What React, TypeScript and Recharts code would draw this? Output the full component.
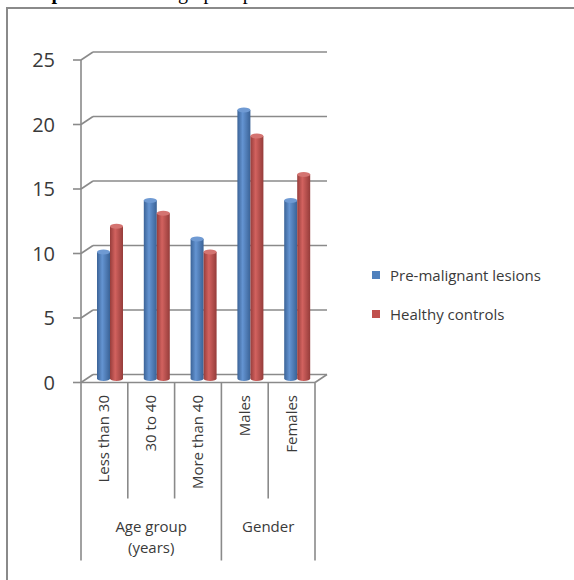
import { Bar, BarChart, CartesianGrid, Legend, XAxis, YAxis } from "recharts";

const categories = ["Less than 30", "30 to 40", "More than 40", "Males", "Females"];
const groupNames = [["Age group", "(years)"], ["Gender"]];
const groupSizes = [3, 2];
const seriesNames = ["Pre-malignant lesions", "Healthy controls"];
const premalignant = [10, 14, 11, 21, 14];
const healthy = [12, 13, 10, 19, 16];
const yTicks = [0, 5, 10, 15, 20, 25];

const data = categories.map((label, i) => ({
  label,
  premalignant: premalignant[i],
  healthy: healthy[i],
}));

// 3D depth: front plane is (-DX, +DY), back wall is (+DX, -DY) of the plot plane
const DX = 6;
const DY = 4;
const GRID = "#8a8a8a";
const TEXT = "#3a3a3a";
const FONT = "'Open Sans', sans-serif";

const gridLine = (p: any) => {
  const { x1, x2, y1 } = p;
  const bottom =
    p.y != null && p.height != null
      ? Math.abs(y1 - (p.y + p.height)) < 0.5
      : p.index === 0;
  return (
    <g key={p.key ?? y1}>
      <line x1={x1 - DX} y1={y1 + DY} x2={x1 + DX} y2={y1 - DY} stroke={GRID} strokeWidth={1.6} />
      <line x1={x1 + DX} y1={y1 - DY} x2={x2 + DX} y2={y1 - DY} stroke={GRID} strokeWidth={1.6} />
      {bottom && (
        <line x1={x2 - DX} y1={y1 + DY} x2={x2 + DX} y2={y1 - DY} stroke={GRID} strokeWidth={1.6} />
      )}
    </g>
  );
};

const YTick = (props: any) => {
  const { x, y, payload } = props;
  const fy = y + DY;
  return (
    <g>
      <line x1={x - DX - 8} y1={fy} x2={x - DX} y2={fy} stroke={GRID} strokeWidth={1.6} />
      <text x={x - 32} y={fy} dy="0.36em" textAnchor="end" fontSize={20} fill={TEXT} fontFamily={FONT}>
        {payload.value}
      </text>
    </g>
  );
};

const XTick = (props: any) => {
  const { x, y, payload, index } = props;
  const half = payload?.offset || 23.4;
  const fx = x - DX;
  const fy = y + DY;
  const left = fx - half;
  let gi = -1;
  let start = 0;
  groupSizes.forEach((s, g) => {
    if (index === start) gi = g;
    start += s;
  });
  const isLast = index === categories.length - 1;
  return (
    <g>
      <line x1={left} y1={fy} x2={left} y2={gi >= 0 ? fy + 178 : fy + 116} stroke={GRID} strokeWidth={1.6} />
      {isLast && (
        <line x1={fx + half} y1={fy} x2={fx + half} y2={fy + 178} stroke={GRID} strokeWidth={1.6} />
      )}
      <text
        transform={`translate(${fx + 5},${fy + 12.5}) rotate(-90)`}
        textAnchor="end"
        fontSize={15}
        fill={TEXT}
        fontFamily={FONT}
      >
        {payload.value}
      </text>
      {gi >= 0 &&
        groupNames[gi].map((t, k) => (
          <text
            key={t}
            x={left + groupSizes[gi] * half}
            y={fy + 149 + k * 21}
            textAnchor="middle"
            fontSize={15}
            fill={TEXT}
            fontFamily={FONT}
          >
            {t}
          </text>
        ))}
    </g>
  );
};

const Cylinder = (props: any) => {
  const { x, y, width, height, gradId, capColor } = props;
  if (!height || height <= 0) return null;
  const rx = width / 2;
  const ry = 2.5;
  const bottom = y + height;
  const d = `M${x},${y + ry} L${x},${bottom} A${rx},${ry} 0 0 0 ${x + width},${bottom} L${x + width},${y + ry} Z`;
  return (
    <g>
      <path d={d} fill={`url(#${gradId})`} />
      <ellipse cx={x + rx} cy={y + ry} rx={rx} ry={ry} fill={capColor} />
    </g>
  );
};

const LegendContent = (props: any) => {
  const items = [...(props.payload || [])].sort(
    (a: any, b: any) => seriesNames.indexOf(a.value) - seriesNames.indexOf(b.value)
  );
  return (
    <div style={{ fontFamily: FONT, fontSize: 15, color: TEXT }}>
      {items.map((e: any, i: number) => (
        <div key={i} style={{ display: "flex", alignItems: "center", height: 20, marginBottom: 19 }}>
          <span style={{ width: 8, height: 8, background: e.color, marginRight: 10, display: "inline-block" }} />
          <span>{e.value}</span>
        </div>
      ))}
    </div>
  );
};

export default function App() {
  return (
    <div style={{ position: "absolute", left: 0, top: 0, width: 574, height: 580, overflow: "hidden", background: "#fff" }}>
      <div style={{ position: "absolute", left: 17, top: -18, font: "bold 20px 'Liberation Serif', serif", lineHeight: "20px", whiteSpace: "nowrap" }}>
        Graph 1:
      </div>
      <div style={{ position: "absolute", left: 129, top: -18, font: "20px 'Liberation Serif', serif", lineHeight: "20px", whiteSpace: "nowrap" }}>
        Demographic profile
      </div>
      <div style={{ position: "absolute", left: 6, top: 7, width: 600, height: 600, border: `2px solid ${GRID}` }} />
      <div style={{ position: "absolute", left: 0, top: 0 }}>
        <BarChart
          width={574}
          height={580}
          data={data}
          margin={{ top: 56, left: 27, right: 253, bottom: 141.5 }}
          barGap={0}
          barSize={13}
        >
          <defs>
            <linearGradient id="gBlue" x1="0" y1="0" x2="1" y2="0">
              <stop offset="0%" stopColor="#3b6397" />
              <stop offset="40%" stopColor="#6494d2" />
              <stop offset="100%" stopColor="#3a6296" />
            </linearGradient>
            <linearGradient id="gRed" x1="0" y1="0" x2="1" y2="0">
              <stop offset="0%" stopColor="#973d3b" />
              <stop offset="40%" stopColor="#d2625f" />
              <stop offset="100%" stopColor="#953c3a" />
            </linearGradient>
          </defs>
          <CartesianGrid vertical={false} horizontal={gridLine} />
          <XAxis
            dataKey="label"
            height={60}
            tickSize={0}
            tickMargin={0}
            tickLine={false}
            interval={0}
            tick={<XTick />}
            axisLine={{ stroke: GRID, strokeWidth: 1.6, transform: `translate(${-DX},${DY})` }}
          />
          <YAxis
            width={60}
            domain={[0, 25]}
            ticks={yTicks}
            tickSize={0}
            tickMargin={0}
            tickLine={false}
            tick={<YTick />}
            axisLine={{ stroke: GRID, strokeWidth: 1.6, transform: `translate(${-DX},${DY})` }}
          />
          <Legend
            layout="vertical"
            align="center"
            verticalAlign="middle"
            content={<LegendContent />}
            wrapperStyle={{ left: 372, top: 265, width: 200 }}
          />
          <Bar
            dataKey="premalignant"
            name={seriesNames[0]}
            fill="#4F81BD"
            isAnimationActive={false}
            shape={(p: any) => <Cylinder {...p} gradId="gBlue" capColor="#6f9ad3" />}
          />
          <Bar
            dataKey="healthy"
            name={seriesNames[1]}
            fill="#C0504D"
            isAnimationActive={false}
            shape={(p: any) => <Cylinder {...p} gradId="gRed" capColor="#d47471" />}
          />
        </BarChart>
      </div>
    </div>
  );
}
